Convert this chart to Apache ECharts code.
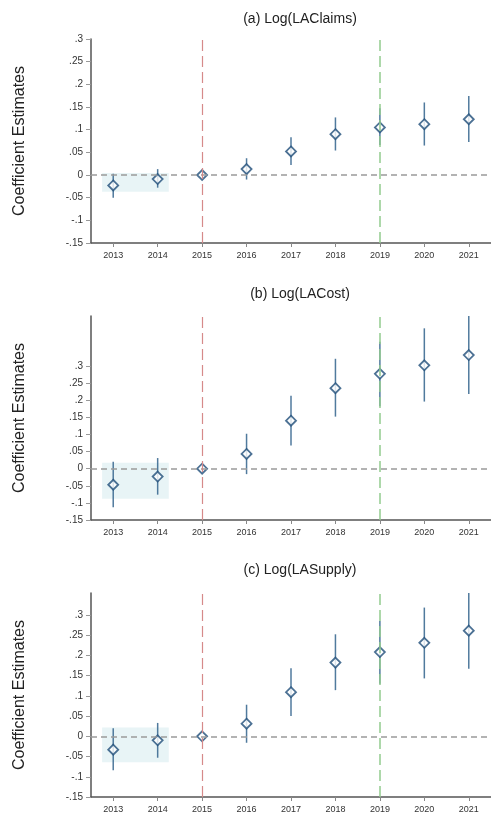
<!DOCTYPE html>
<html>
<head>
<meta charset="utf-8">
<script src="https://cdn.jsdelivr.net/npm/echarts@6/dist/echarts.min.js"></script>
<style>
html,body{margin:0;padding:0;background:#fff;}
#chart{width:491px;height:819px;}
</style>
</head>
<body>
<div id="chart"></div>
<script>
var years = [2013, 2014, 2015, 2016, 2017, 2018, 2019, 2020, 2021];
var yTicks = [-0.15, -0.1, -0.05, 0, 0.05, 0.1, 0.15, 0.2, 0.25, 0.3];
var titles = ['(a) Log(LAClaims)', '(b) Log(LACost)', '(c) Log(LASupply)'];

var claimsEst = [-0.023, -0.009, 0, 0.013, 0.052, 0.090, 0.105, 0.112, 0.123];
var claimsLo  = [-0.050, -0.028, 0, -0.010, 0.022, 0.054, 0.066, 0.065, 0.073];
var claimsHi  = [0.003, 0.013, 0, 0.037, 0.083, 0.127, 0.147, 0.160, 0.174];

var costEst = [-0.047, -0.023, 0, 0.043, 0.140, 0.235, 0.277, 0.302, 0.332];
var costLo  = [-0.113, -0.076, 0, -0.016, 0.068, 0.152, 0.182, 0.196, 0.218];
var costHi  = [0.020, 0.031, 0, 0.102, 0.213, 0.321, 0.371, 0.410, 0.446];

var supplyEst = [-0.033, -0.010, 0, 0.031, 0.109, 0.182, 0.208, 0.231, 0.261];
var supplyLo  = [-0.084, -0.053, 0, -0.016, 0.050, 0.114, 0.130, 0.143, 0.167];
var supplyHi  = [0.020, 0.033, 0, 0.078, 0.168, 0.252, 0.285, 0.318, 0.354];

var yMin = [-0.15, -0.15, -0.15];
var yMax = [0.3, 0.446, 0.354];

var boxYears = [2012.75, 2014.25];
var boxTop = [0.0044, 0.0175, 0.0215];
var boxBottom = [-0.037, -0.0877, -0.064];

var treatYear = 2015;
var secondYear = 2019;

var panels = [
  {est: claimsEst, lo: claimsLo, hi: claimsHi},
  {est: costEst, lo: costLo, hi: costHi},
  {est: supplyEst, lo: supplyLo, hi: supplyHi}
];

var gridTops = [39, 316, 593];
var titleTops = [7, 282, 558];
var FONT = 'Liberation Sans, Arial, sans-serif';

function fmtY(v) {
  if (Math.abs(v) < 1e-9) return '0';
  var s = String(+v.toFixed(2));
  return s.replace('0.', '.');
}

var option = {
  animation: false,
  backgroundColor: '#fff',
  title: [],
  grid: [],
  xAxis: [],
  yAxis: [],
  series: []
};

panels.forEach(function (p, i) {
  option.title.push({
    text: titles[i],
    left: 295,
    top: titleTops[i],
    textAlign: 'center',
    textStyle: {fontFamily: FONT, fontSize: 14, fontWeight: 'normal', color: '#222'}
  });
  option.grid.push({left: 91, right: -8, top: gridTops[i], height: 204, containLabel: false});
  option.xAxis.push({
    type: 'value', gridIndex: i, min: 2012.5, max: 2021.5,
    splitLine: {show: false},
    axisLine: {show: true, onZero: false, lineStyle: {color: '#555', width: 1.5}},
    axisTick: {show: true, customValues: years, length: 4, lineStyle: {color: '#888', width: 1}},
    axisLabel: {customValues: years, formatter: function (v) { return String(v); },
      fontFamily: 'Liberation Sans Narrow, ' + FONT, fontSize: 9, color: '#333', margin: 8}
  });
  option.yAxis.push({
    type: 'value', gridIndex: i, min: yMin[i], max: yMax[i],
    name: 'Coefficient Estimates', nameLocation: 'middle', nameGap: 63,
    nameTextStyle: {fontFamily: FONT, fontSize: 16, color: '#222'},
    splitLine: {show: false},
    axisLine: {show: true, onZero: false, lineStyle: {color: '#555', width: 1.5}},
    axisTick: {show: true, customValues: yTicks, length: 5, lineStyle: {color: '#999', width: 1}},
    axisLabel: {customValues: yTicks, formatter: fmtY, fontFamily: FONT, fontSize: 10, color: '#333', margin: 8}
  });

  var pts = years.map(function (y, k) { return [y, p.est[k]]; });
  var ci = years.map(function (y, k) { return [y, p.lo[k], p.hi[k]]; });

  // reference lines and shaded region
  option.series.push({
    type: 'line', xAxisIndex: i, yAxisIndex: i, data: pts, showSymbol: false, silent: true,
    lineStyle: {opacity: 0}, z: 1,
    markArea: {
      silent: true,
      itemStyle: {color: '#e8f4f6'},
      data: [[{xAxis: boxYears[0], yAxis: boxTop[i]}, {xAxis: boxYears[1], yAxis: boxBottom[i]}]]
    },
    markLine: {
      silent: true, symbol: ['none', 'none'], label: {show: false},
      data: [
        {yAxis: 0, lineStyle: {color: '#9a9a9a', width: 1.5, type: [6, 4]}},
        {xAxis: treatYear, lineStyle: {color: '#d68a8a', width: 1.2, type: [11, 5]}},
        {xAxis: secondYear, lineStyle: {color: '#93cc8f', width: 1.5, type: [11, 5]}}
      ]
    }
  });

  option.series.push({
    type: 'custom', xAxisIndex: i, yAxisIndex: i, data: ci, z: 3, silent: true,
    encode: {x: 0, y: [1, 2]},
    renderItem: function (params, api) {
      var x = api.value(0), lo = api.value(1), hi = api.value(2);
      var a = api.coord([x, lo]), b = api.coord([x, hi]);
      return {type: 'line', shape: {x1: a[0], y1: a[1], x2: b[0], y2: b[1]},
        style: {stroke: '#3d6b92', lineWidth: 1.5, opacity: 0.9}};
    }
  });

  option.series.push({
    type: 'scatter', xAxisIndex: i, yAxisIndex: i, data: pts, z: 4, silent: true,
    symbol: 'diamond', symbolSize: 10,
    itemStyle: {color: '#fff', borderColor: '#1f4e79', borderWidth: 1.8}
  });
});

var chart = echarts.init(document.getElementById('chart'), null, {renderer: 'canvas'});
chart.setOption(option);
</script>
</body>
</html>
